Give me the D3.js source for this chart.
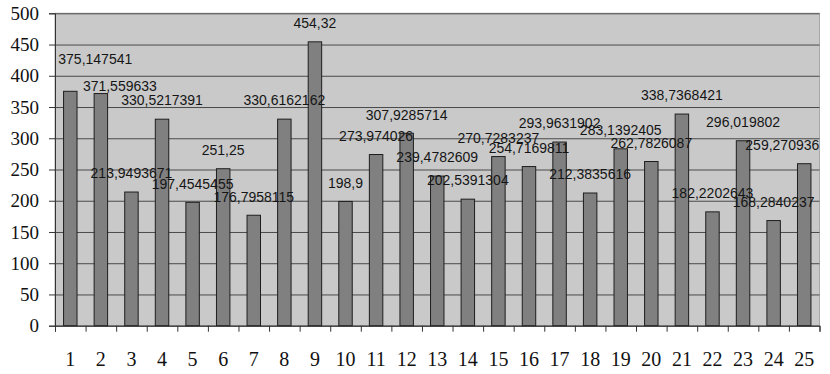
<!DOCTYPE html>
<html>
<head>
<meta charset="utf-8">
<script src="https://cdn.jsdelivr.net/npm/d3@7"></script>
<style>
  html, body { margin: 0; padding: 0; background: #fff; }
  svg { display: block; }
</style>
</head>
<body>
<svg id="chart" width="830" height="374"></svg>
<script>
// Category names along the x axis
const categories = ["1","2","3","4","5","6","7","8","9","10","11","12","13",
  "14","15","16","17","18","19","20","21","22","23","24","25"];

// One value per category
const values = [375.147541, 371.559633, 213.9493671, 330.5217391, 197.4545455,
  251.25, 176.7958115, 330.6162162, 454.32, 198.9, 273.974026, 307.9285714,
  239.4782609, 202.5391304, 270.7283237, 254.7169811, 293.9631902, 212.3835616,
  283.1392405, 262.7826087, 338.7368421, 182.2202643, 296.019802, 168.2840237,
  259.270936];

// Value axis ticks
const yTicks = [0, 50, 100, 150, 200, 250, 300, 350, 400, 450, 500];

const svg = d3.select("#chart");
const W = 830, H = 374;
const margin = { top: 13.3, right: 10.5, bottom: 48.3, left: 55 };
const iw = W - margin.left - margin.right;
const ih = H - margin.top - margin.bottom;

const g = svg.append("g").attr("transform", `translate(${margin.left},${margin.top})`);

const x = d3.scaleBand().domain(categories).range([0, iw])
  .paddingInner(0.56).paddingOuter(0.28);
const y = d3.scaleLinear().domain([0, 500]).range([ih, 0]);

// Plot area background
g.append("rect").attr("x", 0).attr("y", 0).attr("width", iw).attr("height", ih)
  .attr("fill", "#c9c9c9").attr("stroke", "#a8a8a8").attr("stroke-width", 1);

// Horizontal gridlines
const grid = g.append("g").call(d3.axisLeft(y).tickValues(yTicks).tickSize(-iw).tickFormat(""));
grid.select(".domain").remove();
grid.selectAll("line").attr("stroke", "#4a4a4a").attr("stroke-width", 1);

// Bars
g.append("g").selectAll("rect").data(values).join("rect")
  .attr("x", (d, i) => x(categories[i]))
  .attr("y", d => y(d))
  .attr("width", x.bandwidth())
  .attr("height", d => y(0) - y(d))
  .attr("fill", "#808080")
  .attr("stroke", "#1e1e1e")
  .attr("stroke-width", 1);

// Value axis with outward ticks
const yAxis = g.append("g").call(d3.axisLeft(y).tickValues(yTicks).tickSize(6).tickPadding(10));
yAxis.select(".domain").attr("stroke", "#333");
yAxis.selectAll(".tick line").attr("stroke", "#333");
yAxis.selectAll("text")
  .attr("font-family", "'Liberation Serif', 'Times New Roman', serif")
  .attr("font-size", 19).attr("fill", "#111");

// Category axis: labels at the band centres, tick marks at the band edges
const edge = d3.scaleLinear().domain([0, categories.length]).range([0, iw]);
const xTicks = g.append("g").attr("transform", `translate(0,${ih})`)
  .call(d3.axisBottom(edge).tickValues(d3.range(categories.length + 1)).tickSize(6).tickFormat(""));
xTicks.select(".domain").attr("stroke", "#333");
xTicks.selectAll(".tick line").attr("stroke", "#333");

const xAxis = g.append("g").attr("transform", `translate(0,${ih})`)
  .call(d3.axisBottom(x).tickSize(0));
xAxis.select(".domain").remove();
xAxis.selectAll("text")
  .attr("y", 40).attr("dy", null)
  .attr("font-family", "'Liberation Serif', 'Times New Roman', serif")
  .attr("font-size", 20).attr("fill", "#111");

// Value labels above each bar; the first two were nudged by hand
const nudge = { 0: [25, -14], 1: [19, 11] };
const labels = g.append("g").selectAll("text").data(values).join("text")
  .attr("font-family", "'Liberation Sans', Arial, sans-serif")
  .attr("font-size", 14)
  .attr("fill", "#151515")
  .attr("text-anchor", "middle")
  .text(d => String(d).replace(".", ","))
  .attr("x", (d, i) => x(categories[i]) + x.bandwidth() / 2 + (nudge[i] ? nudge[i][0] : 0))
  .attr("y", (d, i) => y(d) - 13.7 + (nudge[i] ? nudge[i][1] : 0));

// Keep labels inside the plot's right edge
labels.each(function () {
  const bb = this.getBBox();
  const over = bb.x + bb.width - iw;
  if (over > 0) d3.select(this).attr("x", +d3.select(this).attr("x") - over);
});
</script>
</body>
</html>
